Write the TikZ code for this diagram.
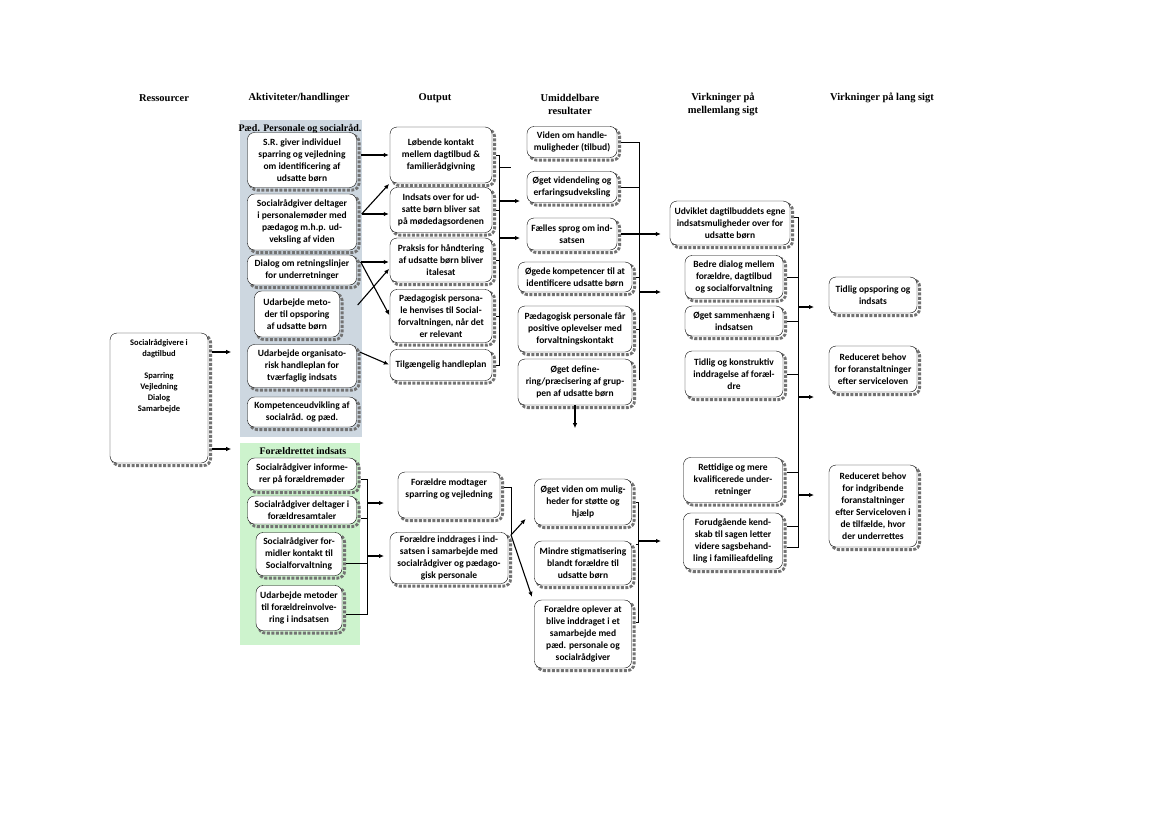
\documentclass[tikz,border=0pt]{standalone}
\usepackage{fontspec}
\setmainfont{Carlito}
\newfontfamily\headfont{Liberation Serif}
\usetikzlibrary{arrows.meta,shadows}

\definecolor{paedblue}{RGB}{205,215,224}
\definecolor{foraeldgreen}{RGB}{205,243,205}
\definecolor{shadegray}{RGB}{115,115,115}

\tikzset{
  resbox/.style={draw, fill=white, rounded corners=7pt, align=center,
    inner sep=1pt, font=\bfseries\fontsize{9.5}{12}\selectfont,
    copy shadow={shadow xshift=2.6pt, shadow yshift=-2.6pt, draw=shadegray,
      fill=none, line width=2.8pt, dash pattern=on 3pt off 1.5pt}},
  dims/.style 2 args={minimum width=#1pt, minimum height=#2pt},
  headline/.style={font=\headfont\bfseries\fontsize{10.5}{13}\selectfont, align=center},
  paneltitle/.style={font=\headfont\bfseries\fontsize{10}{12}\selectfont},
  arr/.style={-{Latex[length=5pt,width=4.5pt]}, line width=1.1pt, shorten >=1pt},
  link/.style={line width=0.6pt}
}

\begin{document}
\begin{tikzpicture}[x=1pt,y=-1pt]
    \fill[white] (0,0) rectangle (1169,827);
    \useasboundingbox (0,0) rectangle (1169,827);

    % Column headings
    \node[headline] (h1) at (164,98) {Ressourcer};
    \node[headline] (h2) at (299,98) {Aktiviteter/handlinger};
    \node[headline] (h3) at (435,98) {Output};
    \node[headline] (h4) at (570,104) {Umiddelbare\\resultater};
    \node[headline] (h5) at (723,104) {Virkninger på\\mellemlang sigt};
    \node[headline] (h6) at (882,98) {Virkninger på lang sigt};

    % Background panels of the two groups of activities
    \fill[paedblue] (240,120) rectangle (362,437);
    \fill[foraeldgreen] (240,443) rectangle (360,645);
    \node[paneltitle] (paedtitle) at (300,129) {Pæd. Personale og socialråd.};
    \node[paneltitle] (foraeldtitle) at (303,451) {Forældrettet indsats};

    % Ressourcer
    \node[resbox, dims={98}{130}, font=\bfseries\fontsize{8.5}{11}\selectfont] (res) at (159,398)
        {Socialrådgivere i\\dagtilbud\\[11pt]Sparring\\Vejledning\\Dialog\\Samarbejde\\[35pt]\mbox{}};

    % Aktiviteter: paed. personale og socialraad.
    \node[resbox, dims={109}{55}] (s1) at (302,160) {S.R. giver individuel\\sparring og vejledning\\om identificering af\\udsatte børn};
    \node[resbox, dims={109}{56}] (s2) at (302,222) {Socialrådgiver deltager\\i personalemøder med\\pædagog m.h.p. ud-\\veksling af viden};
    \node[resbox, dims={109}{30}] (s3) at (302,270) {Dialog om retningslinjer\\for underretninger};
    \node[resbox, dims={85}{46}] (s4) at (297,314) {Udarbejde meto-\\der til opsporing\\af udsatte børn};
    \node[resbox, dims={109}{43}] (s5) at (302,366) {Udarbejde organisato-\\risk handleplan for\\tværfaglig indsats};
    \node[resbox, dims={109}{30}] (s6) at (302,412) {Kompetenceudvikling af\\socialråd. og pæd.};

    % Aktiviteter: foraeldrettet indsats
    \node[resbox, dims={109}{32}] (g1) at (302,474) {Socialrådgiver informe-\\rer på forældremøder};
    \node[resbox, dims={109}{28}] (g2) at (302,510) {Socialrådgiver deltager i\\forældresamtaler};
    \node[resbox, dims={86}{43}] (g3) at (299,554) {Socialrådgiver for-\\midler kontakt til\\Socialforvaltning};
    \node[resbox, dims={86}{45}] (g4) at (299,608) {Udarbejde metoder\\til forældreinvolve-\\ring i indsatsen};

    % Output
    \node[resbox, dims={102}{56}] (o1) at (441,155) {Løbende kontakt\\mellem dagtilbud \&\\familierådgivning};
    \node[resbox, dims={102}{45}] (o2) at (441,210) {Indsats over for ud-\\satte børn bliver sat\\på mødedagsordenen};
    \node[resbox, dims={102}{44}] (o3) at (441,260) {Praksis for håndtering\\af udsatte børn bliver\\italesat};
    \node[resbox, dims={102}{53}] (o4) at (441,316) {Pædagogisk persona-\\le henvises til Social-\\forvaltningen, når det\\er relevant};
    \node[resbox, dims={102}{31}] (o5) at (441,365) {Tilgængelig handleplan};
    \node[resbox, dims={102}{46}] (fo1) at (449,495) {Forældre modtager\\sparring og vejledning\\[2pt]\mbox{}};
    \node[resbox, dims={118}{51}] (fo2) at (449,558) {Forældre inddrages i ind-\\satsen i samarbejde med\\socialrådgiver og pædago-\\gisk personale};

    % Umiddelbare resultater
    \node[resbox, dims={90}{31}] (u1) at (572,142) {Viden om handle-\\muligheder (tilbud)};
    \node[resbox, dims={90}{31}] (u2) at (572,187) {Øget videndeling og\\erfaringsudveksling};
    \node[resbox, dims={90}{32}] (u3) at (572,234) {Fælles sprog om ind-\\satsen};
    \node[resbox, dims={114}{30}] (u4) at (575,277) {Øgede kompetencer til at\\identificere udsatte børn};
    \node[resbox, dims={114}{46}] (u5) at (575,329) {Pædagogisk personale får\\positive oplevelser med\\forvaltningskontakt};
    \node[resbox, dims={114}{46}] (u6) at (575,382) {Øget define-\\ring/præcisering af grup-\\pen af udsatte børn};
    \node[resbox, dims={97}{46}] (fu1) at (583,502) {Øget viden om mulig-\\heder for støtte og\\hjælp};
    \node[resbox, dims={97}{44}] (fu2) at (583,563) {Mindre stigmatisering\\blandt forældre til\\udsatte børn};
    \node[resbox, dims={97}{68}] (fu3) at (583,634) {Forældre oplever at\\blive inddraget i et\\samarbejde med\\pæd. personale og\\socialrådgiver};

    % Virkninger paa mellemlang sigt
    \node[resbox, dims={120}{44}] (m1) at (730,223) {Udviklet dagtilbuddets egne\\indsatsmuligheder over for\\udsatte børn};
    \node[resbox, dims={98}{43}] (m2) at (734,277) {Bedre dialog mellem\\forældre, dagtilbud\\og socialforvaltning};
    \node[resbox, dims={98}{30}] (m3) at (734,321) {Øget sammenhæng i\\indsatsen};
    \node[resbox, dims={98}{46}] (m4) at (734,374) {Tidlig og konstruktiv\\inddragelse af foræl-\\dre};
    \node[resbox, dims={99}{45}] (l1) at (733,480) {Rettidige og mere\\kvalificerede under-\\retninger};
    \node[resbox, dims={99}{56}] (l2) at (733,541) {Forudgående kend-\\skab til sagen letter\\videre sagsbehand-\\ling i familieafdeling};

    % Virkninger paa lang sigt
    \node[resbox, dims={88}{36}] (v1) at (873,295) {Tidlig opsporing og\\indsats};
    \node[resbox, dims={88}{46}] (v2) at (873,369) {Reduceret behov\\for foranstaltninger\\efter serviceloven};
    \node[resbox, dims={88}{82}] (v3) at (873,506) {Reduceret behov\\for indgribende\\foranstaltninger\\efter Serviceloven i\\de tilfælde, hvor\\der underrettes};

    % Arrows from the resources
    \draw[arr] ([xshift=4pt,yshift=46pt]res.east) -- ++(20,0);
    \draw[arr] ([xshift=4pt,yshift=-51pt]res.east) -- ++(20,0);

    % Activities to output (upper panel)
    \coordinate (s2out) at ([xshift=5pt,yshift=8pt]s2.east);
    \coordinate (s3out) at ([xshift=4pt,yshift=8pt]s3.east);
    \draw[arr] ([xshift=4pt,yshift=5pt]s1.east) -- ([yshift=5pt]s1.east -| o1.west);
    \draw[arr] (s2out) -- (o1.south west);
    \draw[arr] (s2out) -- (s2out -| o2.west);
    \draw[arr] (s3out) -- (s3out -| o3.west);
    \draw[arr] (s3out) -- (o4.west);
    \draw[arr] ([xshift=18pt,yshift=9pt]s4.east) -- ([yshift=-8pt]o3.west);
    \draw[arr] ([xshift=3pt,yshift=14pt]s5.east) -- (o5.west);

    % Output bracket (upper)
    \coordinate (obar) at (499,0);
    \draw[link] ([xshift=4pt]o1.east) -- (o1.east -| obar) -- (o5.east -| obar) -- ([xshift=4pt]o5.east);
    \foreach \b in {o2,o3,o4} \draw[link] ([xshift=4pt]\b.east) -- (\b.east -| obar);
    \draw[link] (obar |- 0,167) -- ++(12,0);
    \draw[arr] (obar |- 0,201) -- ++(22,0);
    \draw[arr] (obar |- 0,238) -- ++(22,0);

    % Result bracket (upper)
    \coordinate (ubar) at (639,0);
    \draw[link] ([xshift=4pt]u1.east) -- (u1.east -| ubar) -- (ubar |- 0,380);
    \foreach \b in {u2,u4,u5} \draw[link] ([xshift=4pt]\b.east) -- (\b.east -| ubar);
    \draw[arr] ([xshift=4pt]u3.east) -- ([xshift=-8pt]u3.east -| m1.west);
    \draw[arr] (ubar |- 0,292) -- ++(23,0);
    \draw[arr] (u6.south) -- ++(0,24);

    % Bracket of the medium-term effects
    \coordinate (mbarend) at (798,547);
    \draw[link] ([xshift=4pt,yshift=6pt]m1.east) -| (mbarend) -- ([xshift=4pt]mbarend -| l2.east);
    \foreach \b in {m2,m3,m4} \draw[link] ([xshift=4pt]\b.east) -- (\b.east -| mbarend);
    \draw[link] ([xshift=4pt,yshift=8pt]l1.east) -- ([yshift=8pt]l1.east -| mbarend);
    \draw[link] ([xshift=4pt,yshift=15pt]l2.east) -- ([yshift=15pt]l2.east -| mbarend);
    \foreach \y in {307,397,495} \draw[arr] (mbarend |- 0,\y) -- ++(17,0);

    % Parent activities bracket
    \coordinate (gbar) at (367,0);
    \draw[link] ([xshift=4pt,yshift=-5pt]g1.east) -| (gbar |- 0,614) -- ([xshift=4pt,yshift=-6pt]g4.east);
    \draw[link] ([xshift=4pt,yshift=-8pt]g2.east) -- (gbar |- 0,518);
    \draw[link] ([xshift=4pt,yshift=-9pt]g3.east) -- (gbar |- 0,563);
    \draw[arr] (gbar |- 0,503) -- ++(18,0);
    \draw[arr] (gbar |- 0,556) -- ++(18,0);

    % Parent output to results
    \coordinate (fosplit) at (511,535);
    \draw[link] ([xshift=4pt,yshift=8pt]fo1.east) -| (fosplit);
    \draw[arr] (fosplit) -- ([xshift=-8pt,yshift=7pt]fu1.south west);
    \draw[arr] (fosplit) -- ([xshift=-2pt,yshift=2pt]fu3.north west);

    % Result bracket (lower)
    \coordinate (fubar) at (638,0);
    \draw[link] ([xshift=4pt]fu1.east) -| (fubar |- 0,622) -- ([xshift=4pt,yshift=12pt]fu3.east);
    \draw[link] ([xshift=4pt,yshift=19pt]fu2.east) -- (fubar |- 0,544);
    \draw[arr] (fubar |- 0,541) -- ++(24,0);
\end{tikzpicture}
\end{document}
